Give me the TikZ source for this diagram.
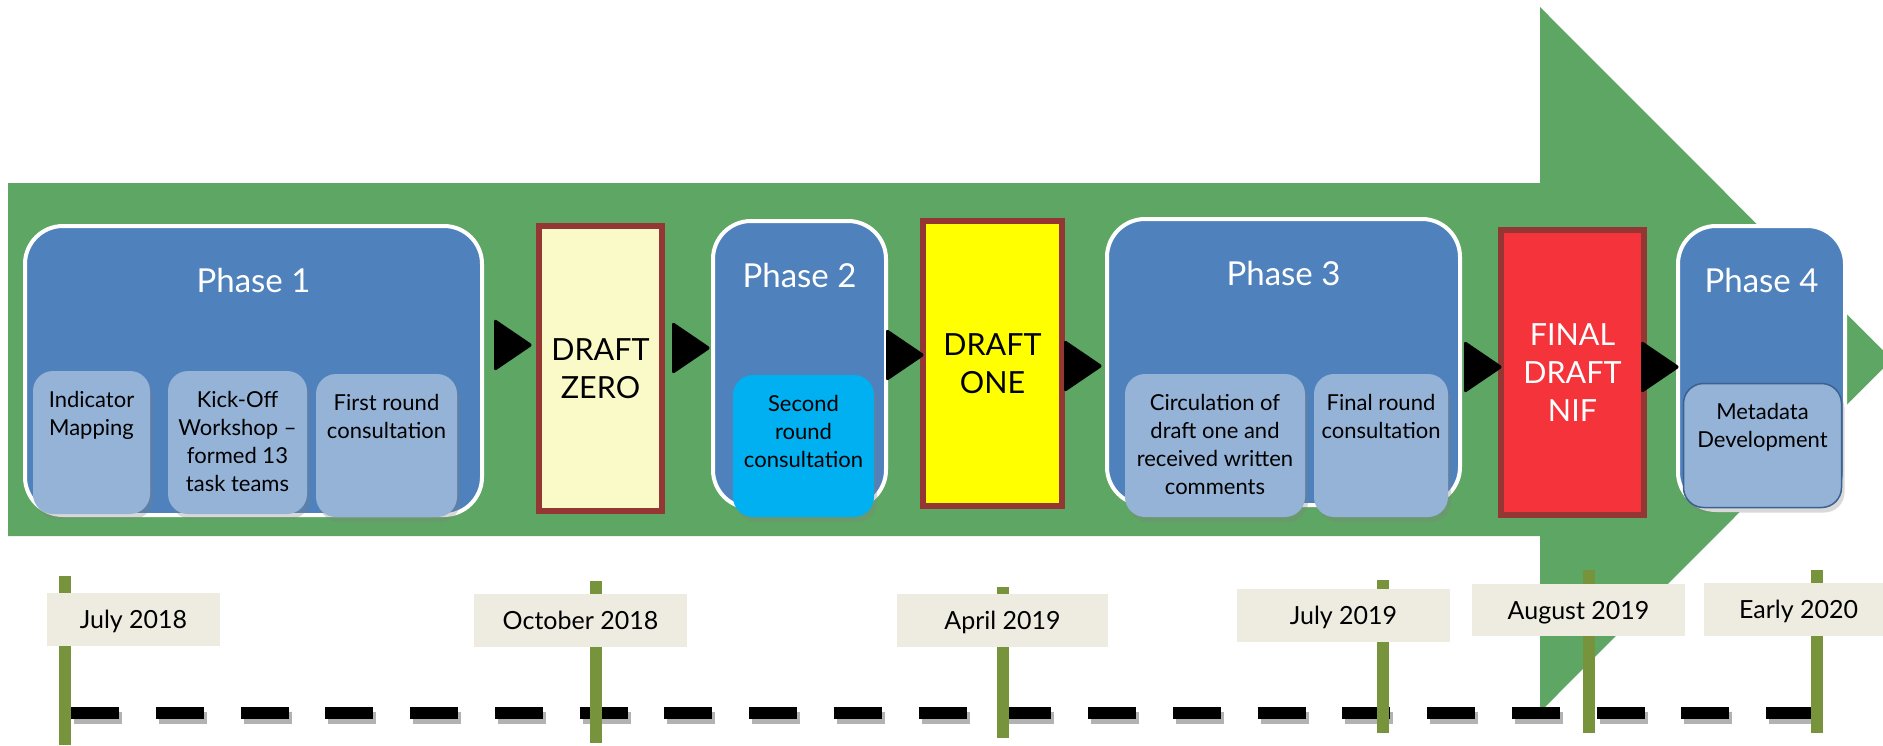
\documentclass[tikz,border=0pt]{standalone}
\usepackage{fontspec}
\setmainfont{Lato}
\usetikzlibrary{positioning,shadows}

\definecolor{arrowgreen}{HTML}{5EA664}
\definecolor{phaseblue}{HTML}{4F81BD}
\definecolor{stepblue}{HTML}{95B3D7}
\definecolor{roundcyan}{HTML}{00B0F0}
\definecolor{draftred}{HTML}{943634}
\definecolor{zerofill}{HTML}{FAFAC8}
\definecolor{onefill}{HTML}{FFFF00}
\definecolor{niffill}{HTML}{F4333A}
\definecolor{datefill}{HTML}{EEECE1}
\definecolor{poleolive}{HTML}{77933C}

\tikzset{
  phase/.style={draw=white, line width=4, fill=phaseblue, rounded corners=38, inner sep=0},
  phasetitle/.style={text=white, inner sep=0, font=\fontsize{33}{40}\selectfont},
  substep/.style={fill=stepblue, rounded corners=20, inner sep=0,
    drop shadow={shadow xshift=3pt, shadow yshift=-5pt, opacity=0.3}},
  subtext/.style={align=center, inner sep=0, anchor=north, font=\fontsize{22}{28}\selectfont},
  draft/.style={draw=draftred, line width=6, inner sep=0, align=center,
    minimum height=285, font=\fontsize{30.5}{38}\selectfont},
  datebox/.style={fill=datefill, inner sep=0, minimum height=53, text height=18, text depth=0,
    font=\fontsize{25}{30}\selectfont},
  pole/.style={poleolive, line width=12},
  dashline/.style={line width=12, dash pattern=on 48pt off 36.75pt},
}

\begin{document}
\begin{tikzpicture}[x=1pt, y=-1pt]
\useasboundingbox (0,0) rectangle (1883,745);
\clip (0,0) rectangle (1883,745);

% big arrow
\fill[arrowgreen] (8,183) -- (1540,183) -- (1540,7) -- (1892,359.5) -- (1540,712) -- (1540,536) -- (8,536) -- cycle;

% phases
\node[phase, minimum width=457, minimum height=289] (p1) at (253.5,370.5) {};
\node[phase, minimum width=173, minimum height=287] (p2) at (799.5,364.5) {};
\node[phase, minimum width=353, minimum height=286] (p3) at (1283.5,362) {};
\node[phase, minimum width=167, minimum height=284] (p4) at (1761.5,368) {};
\node[phasetitle] (p1-t) at ([yshift=-56pt]p1.north) {Phase 1};
\node[phasetitle] (p2-t) at ([yshift=-56pt]p2.north) {Phase 2};
\node[phasetitle] (p3-t) at ([yshift=-56pt]p3.north) {Phase 3};
\node[phasetitle] (p4-t) at ([yshift=-56pt]p4.north) {Phase 4};

% steps inside the phases
\node[substep, minimum width=117, minimum height=143] (ind) at (91.5,442.5) {};
\node[substep, minimum width=139, minimum height=143] (kick) at (237.5,442.5) {};
\node[substep, minimum width=141, minimum height=143] (first) at (386.5,445.5) {};
\node[substep, fill=roundcyan, minimum width=141, minimum height=142] (second) at (803.5,446) {};
\node[substep, minimum width=180, minimum height=143] (circ) at (1215,445.5) {};
\node[substep, minimum width=134, minimum height=143] (final) at (1381,445.5) {};
\node[substep, draw=phaseblue!75!black, line width=1.5, minimum width=158, minimum height=124] (meta) at (1762.5,445.5) {};

\node[subtext] (ind-t) at ([yshift=-20pt]ind.north) {Indicator\\Mapping};
\node[subtext] (kick-t) at ([yshift=-20pt]kick.north) {Kick-Off\\Workshop --\\formed 13\\task teams};
\node[subtext] (first-t) at ([yshift=-20pt]first.north) {First round\\consultation};
\node[subtext] (second-t) at ([yshift=-20pt]second.north) {Second\\round\\consultation};
\node[subtext] (circ-t) at ([yshift=-20pt]circ.north) {Circulation of\\draft one and\\received written\\comments};
\node[subtext] (final-t) at ([yshift=-20pt]final.north) {Final round\\consultation};
\node[subtext] (meta-t) at ([yshift=-20pt]meta.north) {Metadata\\Development};

% drafts
\node[draft, fill=zerofill, minimum width=123] (zero) at (600.5,368.5) {DRAFT\\ZERO};
\node[draft, fill=onefill, minimum width=139] (one) at (992.5,363.5) {DRAFT\\ONE};
\node[draft, fill=niffill, text=white, minimum width=143] (nif) at (1572.5,372.5) {FINAL\\DRAFT\\NIF};

% black pointers
\foreach \x/\y in {533/345, 711/348, 925/355, 1103/366, 1503/367, 1680/367}
  \fill[black, rounded corners=3] (\x-39,\y-26.5) -- (\x,\y) -- (\x-39,\y+26.5) -- cycle;

% timeline
\draw[dashline, black!30] (74,718) -- (1814,718);
\draw[dashline, black] (71,713) -- (1811,713);
\foreach \x/\top/\bot in {65/576/745, 596/581/743, 1003/587/738, 1383/580/733, 1589/570/733, 1817/570/733}
  \draw[pole] (\x,\top) -- (\x,\bot);

\node[datebox, minimum width=173] (d1) at (133.5,619.5) {July 2018};
\node[datebox, minimum width=213] (d2) at (580.5,620.5) {October 2018};
\node[datebox, minimum width=211] (d3) at (1002.5,620.5) {April 2019};
\node[datebox, minimum width=213] (d4) at (1343.5,615.5) {July 2019};
\node[datebox, minimum width=213, minimum height=52] (d5) at (1578.5,610) {August 2019};
\node[datebox, minimum width=189] (d6) at (1798.5,609.5) {Early 2020};

\end{tikzpicture}
\end{document}
